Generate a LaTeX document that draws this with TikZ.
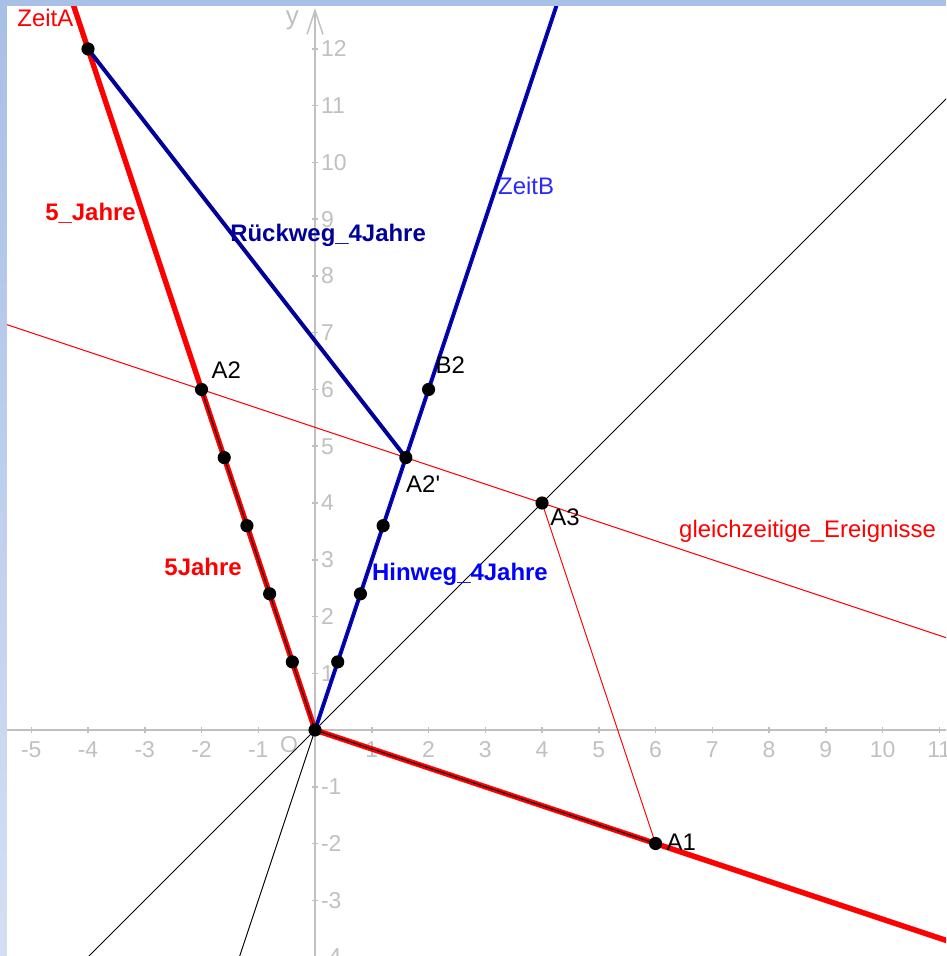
\documentclass[tikz,border=0pt]{standalone}
\usepackage{fontspec}
\setmainfont{Liberation Sans}
\usetikzlibrary{arrows.meta}
\definecolor{achse}{RGB}{192,192,192}
\definecolor{rot}{RGB}{255,0,0}
\definecolor{blau}{RGB}{0,0,255}
\definecolor{zeitblau}{RGB}{40,40,255}
\definecolor{dunkelblau}{RGB}{0,0,153}
\definecolor{rahmen}{RGB}{168,191,230}
\definecolor{rahmenhell}{RGB}{212,223,243}

\tikzset{
  achsen/.style={achse, line width=0.75pt},
  dick/.style={line width=2.7pt},
  mittel/.style={line width=2pt},
  duenn/.style={line width=0.5pt},
  punkt/.style={circle, fill=black, inner sep=0pt, minimum size=6.6pt},
  lbl/.style={font=\fontsize{12}{14}\selectfont, inner sep=0pt},
  fett/.style={lbl, font=\fontsize{12}{14}\selectfont\bfseries},
  zahl/.style={achse, font=\fontsize{11.5}{13}\selectfont, inner sep=0pt},
}

\begin{document}
\begin{tikzpicture}
  \useasboundingbox (-5.551,-3.982) rectangle (11.119,12.863);
  \begin{scope}
  \clip (-5.551,-3.982) rectangle (11.119,12.863);

  % Koordinatenachsen
  \draw[achsen] (-5.43,0) -- (11.2,0);
  \draw[achsen, -{Straight Barb[length=12pt,width=8pt]}] (0,-4.1) -- (0,12.72);
  \foreach \x in {-5,...,-1,1,2,...,11}
    { \draw[achsen] (\x,-0.06) -- (\x,0.06);
      \node[zahl] (tx\x) at (\x,-0.35) {\x}; }
  \foreach \y in {-4,...,-1,1,2,...,12}
    { \draw[achsen] (-0.06,\y) -- (0.06,\y);
      \node[zahl, anchor=west] (ty\y) at (0.1,\y) {\y}; }
  \node[zahl] (lO) at (-0.46,-0.26) {O};
  \node[zahl, font=\fontsize{13}{15}\selectfont] (ly) at (-0.4,12.51) {y};

  % Punkte
  \coordinate (O) at (0,0);
  \coordinate (Umkehr) at (-4,12);
  \coordinate (A2) at (-2,6);
  \coordinate (A2s) at (1.6,4.8);
  \coordinate (B2) at (2,6);
  \coordinate (A3) at (4,4);
  \coordinate (A1) at (6,-2);
  \coordinate (zaEnde) at (-4.4,13.2);
  \coordinate (zbEnde) at (4.4,13.2);
  \coordinate (zbUnten) at (-1.4,-4.2);
  \coordinate (rEnde) at (12,-4);
  \coordinate (dUnten) at (-4.2,-4.2);
  \coordinate (dOben) at (12,12);
  \coordinate (gLinks) at (-6,7.3333);
  \coordinate (gRechts) at (12,1.3333);

  % duenne Linien
  \draw[duenn, black] (dUnten) -- (dOben);
  \draw[duenn, rot] (gLinks) -- (gRechts);
  \draw[duenn, rot] (A3) -- (A1);

  % Weltlinien
  \draw[dick, rot] (O) -- (zaEnde);
  \draw[dick, rot] (O) -- (rEnde);
  \draw[mittel, blau] (O) -- (zbEnde);
  \draw[mittel, dunkelblau] (Umkehr) -- (A2s);
  \draw[duenn, black] (O) -- (A2);
  \draw[duenn, black] (O) -- (A1);
  \draw[duenn, black] (zbUnten) -- (zbEnde);

  % Markierungen
  \foreach \k in {1,...,4}
    { \node[punkt] (ra\k) at ({-0.4*\k},{1.2*\k}) {};
      \node[punkt] (rb\k) at ({0.4*\k},{1.2*\k}) {}; }
  \node[punkt] (pO) at (O) {};
  \node[punkt] (pUmkehr) at (Umkehr) {};
  \node[punkt] (pA2) at (A2) {};
  \node[punkt] (pB2) at (B2) {};
  \node[punkt] (pA3) at (A3) {};
  \node[punkt] (pA1) at (A1) {};

  % Beschriftungen
  \node[lbl, rot, anchor=west] (tZeitA) at (-5.25,12.54) {ZeitA};
  \node[fett, rot, anchor=west] (t5J) at (-4.76,9.10) {5\_Jahre};
  \node[fett, dunkelblau, anchor=base west] (tRueck) at (-1.50,8.60) {Rückweg\_4Jahre};
  \node[lbl, zeitblau, anchor=base west] (tZeitB) at (3.22,9.43) {ZeitB};
  \node[lbl, anchor=base west] (tA2) at (-1.83,6.19) {A2};
  \node[lbl, anchor=base west] (tB2) at (2.12,6.29) {B2};
  \node[lbl, anchor=base west] (tA2s) at (1.60,4.19) {A2\textquotesingle};
  \node[lbl, anchor=base west] (tA3) at (4.14,3.61) {A3};
  \node[lbl, rot, anchor=base west] (tGleich) at (6.41,3.40) {gleichzeitige\_Ereignisse};
  \node[fett, rot, anchor=base west] (t5Jb) at (-2.66,2.73) {5Jahre};
  \node[fett, blau, anchor=base west] (tHin) at (1.00,2.63) {Hinweg\_4Jahre};
  \node[lbl, anchor=base west] (tA1) at (6.19,-2.13) {A1};

  % Rahmen
  \fill[rahmen] (-5.551,12.757) rectangle (11.119,12.863);
  \shade[top color=rahmen, bottom color=rahmenhell] (-5.551,-3.982) rectangle (-5.428,12.863);
  \end{scope}
\end{tikzpicture}
\end{document}
